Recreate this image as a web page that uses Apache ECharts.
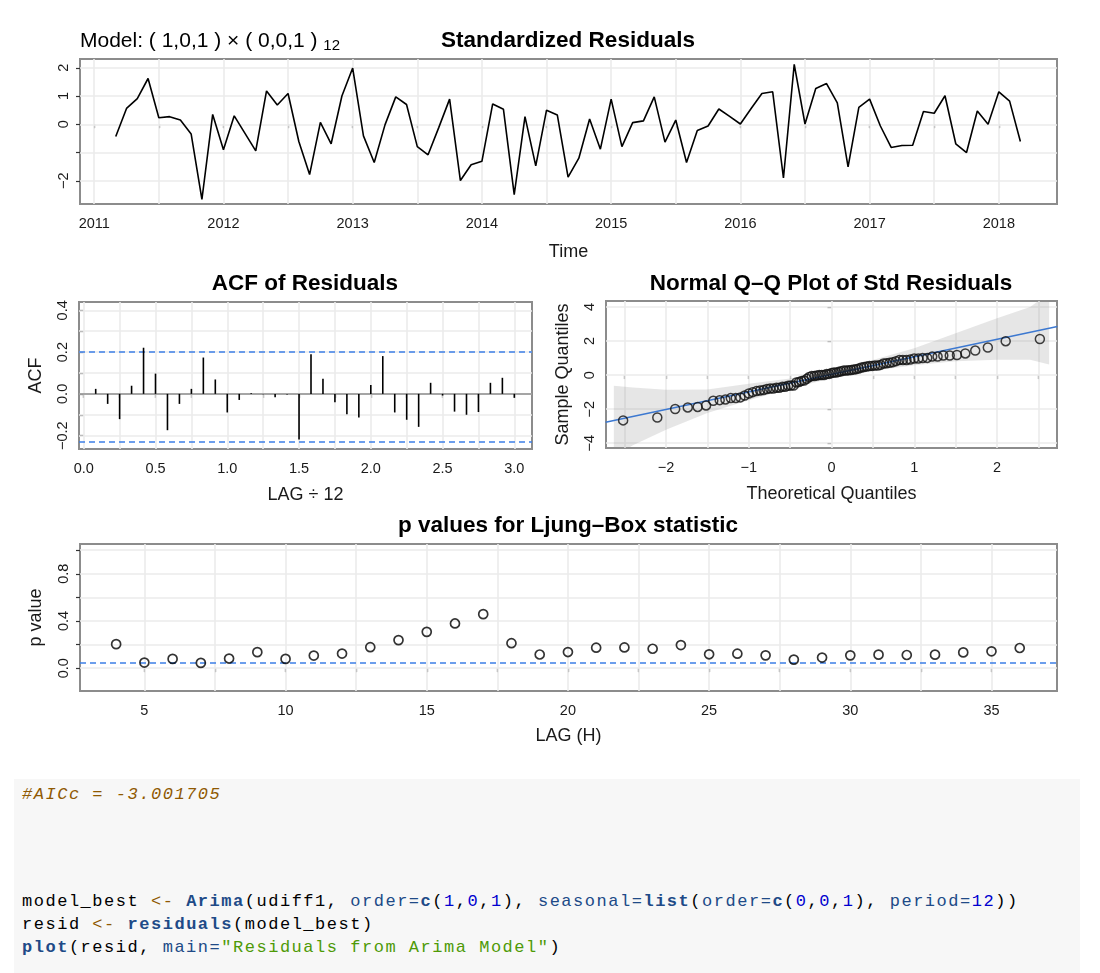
<!DOCTYPE html>
<html>
<head>
<meta charset="utf-8">
<title>sarima diagnostics</title>
<script src="https://cdn.jsdelivr.net/npm/echarts@6.0.0/dist/echarts.min.js"></script>
<style>
  body { margin: 0; background: #fff; width: 1100px; height: 973px; overflow: hidden; position: relative; }
  #chart { position: absolute; left: 0; top: 0; width: 1100px; height: 775px; }
  #code { position: absolute; left: 14px; top: 779px; width: 1066px; height: 194px; background: #f7f7f7; }
  .ln { position: absolute; left: 8px; white-space: pre; font-family: 'Liberation Mono', 'DejaVu Sans Mono', monospace;
        font-size: 17px; letter-spacing: 1.52px; line-height: 23px; height: 23px; color: #000; }
  .co { color: #8f5902; font-style: italic; }
  .op { color: #8f5902; }
  .fu { color: #204a87; font-weight: bold; }
  .at { color: #204a87; }
  .dv { color: #0000cf; }
  .st { color: #4e9a06; }
</style>
</head>
<body>
<div id="chart"></div>
<div id="code">
  <div class="ln" style="top:4px"><span class="co">#AICc = -3.001705</span></div>
  <div class="ln" style="top:111px">model_best <span class="op">&lt;-</span> <span class="fu">Arima</span>(udiff1, <span class="at">order=</span><span class="fu">c</span>(<span class="dv">1</span>,<span class="dv">0</span>,<span class="dv">1</span>), <span class="at">seasonal=</span><span class="fu">list</span>(<span class="at">order=</span><span class="fu">c</span>(<span class="dv">0</span>,<span class="dv">0</span>,<span class="dv">1</span>), <span class="at">period=</span><span class="dv">12</span>))</div>
  <div class="ln" style="top:134px">resid <span class="op">&lt;-</span> <span class="fu">residuals</span>(model_best)</div>
  <div class="ln" style="top:157px"><span class="fu">plot</span>(resid, <span class="at">main=</span><span class="st">"Residuals from Arima Model"</span>)</div>
</div>
<script>
// standardized residuals, monthly from Mar 2011 to Mar 2018
var startYear = 2011, startMonth = 3;
var stdResid = [-0.43, 0.56, 0.91, 1.62, 0.23, 0.27, 0.15, -0.34, -2.66, 0.35,
  -0.90, 0.30, -0.32, -0.94, 1.18, 0.68, 1.09, -0.61, -1.78, 0.07,
  -0.69, 1.00, 1.99, -0.41, -1.35, -0.02, 0.97, 0.70, -0.79, -1.08,
  -0.11, 0.89, -1.99, -1.43, -1.31, 0.72, 0.53, -2.49, 0.27, -1.47,
  0.50, 0.33, -1.87, -1.20, 0.19, -0.88, 0.89, -0.79, 0.06, 0.12,
  0.97, -0.63, 0.15, -1.35, -0.22, -0.06, 0.54, 0.28, 0.01, 0.56,
  1.09, 1.15, -1.90, 2.12, 0.01, 1.27, 1.44, 0.76, -1.51, 0.60,
  0.89, -0.06, -0.82, -0.75, -0.74, 0.45, 0.39, 1.01, -0.69, -1.00,
  0.47, 0.00, 1.15, 0.82, -0.61];

// ACF of residuals, lags 1..36 (plotted at lag/12)
var acfVals = [0.024, -0.048, -0.121, 0.039, 0.221, 0.097, -0.174, -0.048, 0.024, 0.174,
  0.069, -0.089, -0.029, 0.003, -0.002, -0.016, -0.003, -0.218, 0.190, 0.073,
  -0.040, -0.097, -0.113, 0.042, 0.181, -0.089, -0.124, -0.158, 0.053, -0.008,
  -0.085, -0.100, -0.087, 0.053, 0.077, -0.019];
var acfBounds = [0.205, -0.229];

// normal Q-Q: theoretical quantiles, reference line, confidence band
var qqTheo = [-2.518, -2.105, -1.889, -1.737, -1.617, -1.516, -1.429, -1.351, -1.282, -1.217,
  -1.157, -1.101, -1.049, -0.999, -0.952, -0.906, -0.863, -0.821, -0.780, -0.741,
  -0.703, -0.665, -0.629, -0.593, -0.559, -0.524, -0.491, -0.458, -0.425, -0.393,
  -0.362, -0.330, -0.299, -0.269, -0.239, -0.208, -0.178, -0.148, -0.118, -0.089,
  -0.059, -0.029, 0, 0.029, 0.059, 0.089, 0.118, 0.148, 0.178, 0.208,
  0.239, 0.269, 0.299, 0.330, 0.362, 0.393, 0.425, 0.458, 0.491, 0.524,
  0.559, 0.593, 0.629, 0.665, 0.703, 0.741, 0.780, 0.821, 0.863, 0.906,
  0.952, 0.999, 1.049, 1.101, 1.157, 1.217, 1.282, 1.351, 1.429, 1.516,
  1.617, 1.737, 1.889, 2.105, 2.518];
var qqLineX = [-2.73, 2.73];
var qqLineY = [-2.77, 2.85];
var bandX     = [-2.63, -2.4, -2.0, -1.5, -1.0, -0.5, 0, 0.5, 1.0, 1.5, 2.0, 2.4, 2.63];
var bandUpper = [-0.63, -0.73, -0.86, -0.84, -0.51, -0.20, 0.27, 0.88, 1.57, 2.45, 3.33, 4.0, 4.8];
var bandLower = [-4.8, -4.12, -3.21, -2.23, -1.48, -0.78, -0.19, 0.26, 0.58, 0.82, 0.90, 0.90, 0.62];

// Ljung-Box p values, lags 4..36
var lbLags = [4, 5, 6, 7, 8, 9, 10, 11, 12, 13, 14, 15, 16, 17, 18, 19, 20,
  21, 22, 23, 24, 25, 26, 27, 28, 29, 30, 31, 32, 33, 34, 35, 36];
var lbPvals = [0.204, 0.048, 0.079, 0.045, 0.082, 0.136, 0.079, 0.107, 0.124, 0.178,
  0.238, 0.308, 0.379, 0.458, 0.212, 0.116, 0.137, 0.174, 0.176, 0.165,
  0.196, 0.118, 0.123, 0.109, 0.073, 0.090, 0.109, 0.115, 0.112, 0.115,
  0.134, 0.143, 0.171];
var lbLevel = 0.05;

// ticks (also the grid lines) and labelled ticks
var tsTicksX = [2011, 2011.5, 2012, 2012.5, 2013, 2013.5, 2014, 2014.5, 2015, 2015.5, 2016, 2016.5, 2017, 2017.5, 2018];
var tsLabelsX = [2011, 2012, 2013, 2014, 2015, 2016, 2017, 2018];
var tsTicksY = [-2, -1, 0, 1, 2];
var tsLabelsY = [-2, 0, 1, 2];
var acfTicksX = [0, 0.25, 0.5, 0.75, 1, 1.25, 1.5, 1.75, 2, 2.25, 2.5, 2.75, 3];
var acfLabelsX = [0, 0.5, 1, 1.5, 2, 2.5, 3];
var acfTicksY = [-0.2, -0.1, 0, 0.1, 0.2, 0.3, 0.4];
var acfLabelsY = [-0.2, 0, 0.2, 0.4];
var qqTicksX = [-2.5, -2, -1.5, -1, -0.5, 0, 0.5, 1, 1.5, 2, 2.5];
var qqLabelsX = [-2, -1, 0, 1, 2];
var qqTicksY = [-4, -2, 0, 2, 4];
var lbTicksX = [5, 7.5, 10, 12.5, 15, 17.5, 20, 22.5, 25, 27.5, 30, 32.5, 35];
var lbLabelsX = [5, 10, 15, 20, 25, 30, 35];
var lbTicksY = [0, 0.2, 0.4, 0.6, 0.8, 1.0];
var lbLabelsY = [0, 0.4, 0.8];

var FONT = "'Liberation Sans', Arial, Helvetica, sans-serif";
var MINUS = '\u2212';

function fmtInt(v) { return (v < 0 ? MINUS : '') + Math.abs(v); }
function fmtOne(v) { return (v < 0 ? MINUS : '') + Math.abs(v).toFixed(1); }

function makeAxis(o) {
    return {
        type: 'value',
        gridIndex: o.grid,
        min: o.min,
        max: o.max,
        name: o.name || '',
        nameLocation: 'middle',
        nameGap: o.nameGap || 36,
        nameTextStyle: { fontSize: 18, color: '#1a1a1a', fontFamily: FONT },
        axisLine: { show: false },
        splitLine: { show: false },
        axisTick: { show: true, length: 4, customValues: o.ticks, lineStyle: { color: '#333', width: 1.2 } },
        axisLabel: {
            customValues: o.labels,
            formatter: o.fmt,
            rotate: o.rotate || 0,
            margin: o.margin || 12,
            fontSize: 14.5,
            color: '#1a1a1a',
            fontFamily: FONT
        }
    };
}

function gridLines(idx, xs, ys) {
    var items = xs.map(function (v) { return { xAxis: v }; })
        .concat(ys.map(function (v) { return { yAxis: v }; }));
    return {
        type: 'line', xAxisIndex: idx, yAxisIndex: idx, data: [], z: 1, silent: true,
        markLine: {
            z: 1, silent: true, symbol: ['none', 'none'], label: { show: false },
            lineStyle: { color: '#ebebeb', width: 1.6, type: 'solid' },
            emphasis: { disabled: true },
            data: items
        }
    };
}

function refLines(idx, ys, color, type) {
    return {
        type: 'line', xAxisIndex: idx, yAxisIndex: idx, data: [], z: 3, silent: true,
        markLine: {
            z: 3, silent: true, symbol: ['none', 'none'], label: { show: false },
            lineStyle: { color: color, width: 1.5, type: type },
            emphasis: { disabled: true },
            data: ys.map(function (v) { return { yAxis: v }; })
        }
    };
}

var tsData = stdResid.map(function (v, i) {
    return [startYear + (startMonth - 1 + i) / 12, v];
});
var acfData = acfVals.map(function (v, i) { return [(i + 1) / 12, v]; });
var sortedResid = stdResid.slice().sort(function (a, b) { return a - b; });
var qqData = qqTheo.map(function (q, i) { return [q, sortedResid[i]]; });
var lbData = lbLags.map(function (l, i) { return [l, lbPvals[i]]; });

var gridBox = { show: true, borderColor: '#8c8c8c', borderWidth: 2, backgroundColor: 'transparent' };

function titleText(x, y, text) {
    return {
        type: 'text', x: x, y: y, z: 10,
        style: { text: text, fontSize: 22.5, fontWeight: 'bold', fontFamily: FONT, fill: '#000', align: 'center', verticalAlign: 'middle' }
    };
}

var myChart = echarts.init(document.getElementById('chart'));
var option = {
    animation: false,
    backgroundColor: '#fff',
    textStyle: { fontFamily: FONT },
    grid: [
        Object.assign({ left: 80, top: 59, width: 977, height: 145 }, gridBox),
        Object.assign({ left: 79, top: 302, width: 453, height: 147 }, gridBox),
        Object.assign({ left: 606, top: 301, width: 451, height: 147 }, gridBox),
        Object.assign({ left: 80, top: 544, width: 977, height: 147 }, gridBox)
    ],
    xAxis: [
        makeAxis({ grid: 0, min: 2010.89, max: 2018.45, ticks: tsTicksX, labels: tsLabelsX, fmt: fmtInt, name: 'Time', nameGap: 39 }),
        makeAxis({ grid: 1, min: -0.033, max: 3.123, ticks: acfTicksX, labels: acfLabelsX, fmt: fmtOne, name: 'LAG \u00f7 12', nameGap: 37 }),
        makeAxis({ grid: 2, min: -2.725, max: 2.725, ticks: qqTicksX, labels: qqLabelsX, fmt: fmtInt, name: 'Theoretical Quantiles', nameGap: 37 }),
        makeAxis({ grid: 3, min: 2.72, max: 37.32, ticks: lbTicksX, labels: lbLabelsX, fmt: fmtInt, name: 'LAG (H)', nameGap: 36 })
    ],
    yAxis: [
        makeAxis({ grid: 0, min: -2.82, max: 2.31, ticks: tsTicksY, labels: tsLabelsY, fmt: fmtInt, rotate: 90, margin: 9 }),
        makeAxis({ grid: 1, min: -0.264, max: 0.44, ticks: acfTicksY, labels: acfLabelsY, fmt: fmtOne, rotate: 90, margin: 9, name: 'ACF', nameGap: 34 }),
        makeAxis({ grid: 2, min: -4.28, max: 4.35, ticks: qqTicksY, labels: qqTicksY, fmt: fmtInt, rotate: 90, margin: 9, name: 'Sample Quantiles', nameGap: 34 }),
        makeAxis({ grid: 3, min: -0.193, max: 1.052, ticks: lbTicksY, labels: lbLabelsY, fmt: fmtOne, rotate: 90, margin: 9, name: 'p value', nameGap: 35 })
    ],
    graphic: [
        {
            type: 'text', x: 80, y: 41, z: 10,
            style: {
                text: 'Model: ( 1,0,1 ) \u00d7 ( 0,0,1 ) {s|12}',
                fontSize: 21, fontFamily: FONT, fill: '#000', verticalAlign: 'middle',
                rich: { s: { fontSize: 15, fontFamily: FONT, fill: '#000', padding: [10, 0, 0, 0], verticalAlign: 'bottom' } }
            }
        },
        titleText(568, 41, 'Standardized Residuals'),
        titleText(305, 284, 'ACF of Residuals'),
        titleText(831, 284, 'Normal Q\u2013Q Plot of Std Residuals'),
        titleText(568, 526, 'p values for Ljung\u2013Box statistic')
    ],
    series: [
        gridLines(0, tsTicksX, tsTicksY),
        gridLines(1, acfTicksX, acfTicksY),
        gridLines(2, qqTicksX, qqTicksY),
        gridLines(3, lbTicksX, lbTicksY),
        {
            type: 'line', xAxisIndex: 0, yAxisIndex: 0, data: tsData, z: 4,
            showSymbol: false, symbol: 'none',
            lineStyle: { color: '#000', width: 1.6 }
        },
        refLines(1, [0], '#8c8c8c', 'solid'),
        refLines(1, acfBounds, '#3d7fe6', [6, 4]),
        {
            type: 'custom', xAxisIndex: 1, yAxisIndex: 1, data: acfData, z: 4,
            renderItem: function (params, api) {
                var p0 = api.coord([api.value(0), 0]);
                var p1 = api.coord([api.value(0), api.value(1)]);
                return {
                    type: 'line',
                    shape: { x1: p0[0], y1: p0[1], x2: p1[0], y2: p1[1] },
                    style: { stroke: '#000', lineWidth: 1.6 }
                };
            }
        },
        {
            type: 'custom', xAxisIndex: 2, yAxisIndex: 2, data: [[0, 0]], z: 2, clip: true, silent: true,
            renderItem: function (params, api) {
                var pts = [];
                var i;
                for (i = 0; i < bandX.length; i++) pts.push(api.coord([bandX[i], bandUpper[i]]));
                for (i = bandX.length - 1; i >= 0; i--) pts.push(api.coord([bandX[i], bandLower[i]]));
                return { type: 'polygon', shape: { points: pts }, style: { fill: 'rgba(140,140,140,0.22)' } };
            }
        },
        {
            type: 'line', xAxisIndex: 2, yAxisIndex: 2, z: 4, symbol: 'none',
            data: [[qqLineX[0], qqLineY[0]], [qqLineX[1], qqLineY[1]]],
            lineStyle: { color: '#3c78d0', width: 1.5 }
        },
        {
            type: 'scatter', xAxisIndex: 2, yAxisIndex: 2, data: qqData, z: 5,
            symbol: 'circle', symbolSize: 9,
            itemStyle: { color: 'rgba(0,0,0,0)', borderColor: '#111', borderWidth: 1.5 }
        },
        refLines(3, [lbLevel], '#3d7fe6', [6, 4]),
        {
            type: 'scatter', xAxisIndex: 3, yAxisIndex: 3, data: lbData, z: 5,
            symbol: 'circle', symbolSize: 9,
            itemStyle: { color: 'rgba(0,0,0,0)', borderColor: '#000', borderWidth: 1.7 }
        }
    ]
};
myChart.setOption(option);
</script>
</body>
</html>
